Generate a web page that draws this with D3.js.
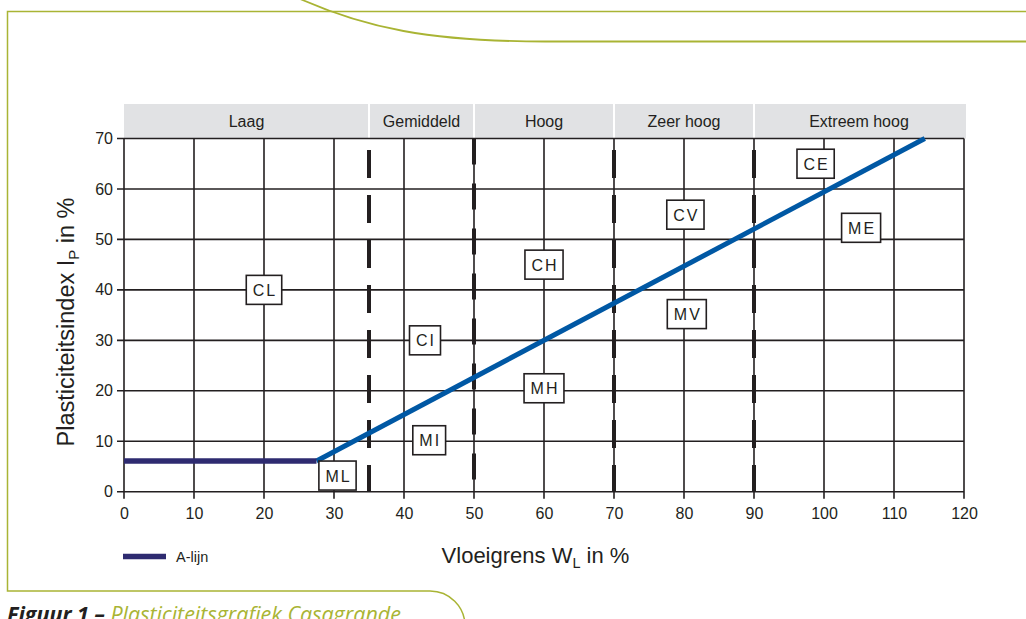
<!DOCTYPE html>
<html>
<head>
<meta charset="utf-8">
<script src="https://cdn.jsdelivr.net/npm/d3@7"></script>
<style>
  html, body { margin: 0; padding: 0; background: #fff; }
  svg { display: block; }
</style>
</head>
<body>
<script>
// ---- data ----
const zoneNames = ["Laag", "Gemiddeld", "Hoog", "Zeer hoog", "Extreem hoog"];
const zoneBounds = [0, 35, 50, 70, 90, 120];
const dividers = [35, 50, 70, 90];
const xTicks = [0, 10, 20, 30, 40, 50, 60, 70, 80, 90, 100, 110, 120];
const yTicks = [0, 10, 20, 30, 40, 50, 60, 70];
const soilCodes = ["CL", "CI", "CH", "CV", "CE", "ML", "MI", "MH", "MV", "ME"];
const soilX = [20, 43, 60, 80.2, 98.8, 30.5, 43.6, 60, 80.4, 105.3];
const soilY = [40, 30, 45, 54.9, 65, 3.2, 10.2, 20.5, 35.2, 52.3];
const aLijnX = [0, 27.5];
const aLijnY = [6.1, 6.1];
const schuinX = [27.5, 114.4];
const schuinY = [6.1, 70];

const W = 1026, H = 619;
const svg = d3.select("body").append("svg").attr("width", W).attr("height", H);

const x = d3.scaleLinear().domain([0, 120]).range([124, 964]);
const y = d3.scaleLinear().domain([0, 70]).range([491.7, 138.5]);

const ink = "#231f20";
const olive = "#a9b434";
const font = "'Liberation Sans', Arial, sans-serif";

// ---- decorative frame ----
svg.append("path")
  .attr("d", "M1026,11.5 H7.5 V591 H430 A35,35 0 0 1 465,626")
  .attr("fill", "none").attr("stroke", olive).attr("stroke-width", 1.5);
svg.append("path")
  .attr("d", "M298,-2 C365,28 430,41.5 545,41.5 H1026")
  .attr("fill", "none").attr("stroke", olive).attr("stroke-width", 1.8);

// ---- header band ----
const band = svg.append("g");
zoneNames.forEach((n, i) => {
  const x0 = x(zoneBounds[i]), x1 = x(zoneBounds[i + 1]);
  band.append("rect")
    .attr("x", x0 + (i === 0 ? 0 : 1)).attr("y", 104)
    .attr("width", x1 - x0 - (i === 0 ? 1 : 2) + (i === zoneNames.length - 1 ? 3 : 0))
    .attr("height", 34.5)
    .attr("fill", "#e1e2e4");
  band.append("text")
    .attr("x", (x0 + x1) / 2).attr("y", 127)
    .attr("text-anchor", "middle")
    .attr("font-family", font).attr("font-size", 16)
    .attr("fill", ink).text(n);
});

// ---- grid ----
const grid = svg.append("g").attr("stroke", ink).attr("stroke-width", 1.6);
xTicks.forEach(t => {
  grid.append("line").attr("x1", x(t)).attr("x2", x(t))
    .attr("y1", y(70)).attr("y2", y(0) + 7);
});
yTicks.forEach(t => {
  grid.append("line").attr("x1", x(0) - 7).attr("x2", x(120))
    .attr("y1", y(t)).attr("y2", y(t));
});

// ---- axes labels via d3 axes ----
const xAxis = svg.append("g").attr("transform", `translate(0,${y(0)})`)
  .call(d3.axisBottom(x).tickValues(xTicks).tickSize(0).tickPadding(16));
xAxis.select(".domain").remove();
xAxis.selectAll("text").attr("font-family", font).attr("font-size", 16).attr("fill", ink);

const yAxis = svg.append("g").attr("transform", `translate(${x(0)},0)`)
  .call(d3.axisLeft(y).tickValues(yTicks).tickSize(0).tickPadding(11));
yAxis.select(".domain").remove();
yAxis.selectAll("text").attr("font-family", font).attr("font-size", 16).attr("fill", ink);

// ---- dashed dividers ----
dividers.forEach(d => {
  const start = 150;
  const period = 45;
  const off = period - (start - y(70));
  svg.append("line")
    .attr("x1", x(d)).attr("x2", x(d))
    .attr("y1", y(70)).attr("y2", y(0))
    .attr("stroke", ink).attr("stroke-width", 4)
    .attr("stroke-dasharray", d === 50 ? "26 19" : "28 17")
    .attr("stroke-dashoffset", d === 50 ? 0 : off);
});

// ---- lines ----
const line = d3.line().x(p => x(p[0])).y(p => y(p[1]));
svg.append("path")
  .datum(schuinX.map((v, i) => [v, schuinY[i]]))
  .attr("d", line).attr("fill", "none")
  .attr("stroke", "#0058a4").attr("stroke-width", 5);
svg.append("path")
  .datum(aLijnX.map((v, i) => [v, aLijnY[i]]))
  .attr("d", line).attr("fill", "none")
  .attr("stroke", "#2e2b70").attr("stroke-width", 5.5);

// ---- soil code boxes ----
soilCodes.forEach((c, i) => {
  const g = svg.append("g").attr("transform", `translate(${x(soilX[i])},${y(soilY[i])})`);
  const rect = g.append("rect");
  const t = g.append("text")
    .attr("text-anchor", "middle").attr("y", 6)
    .attr("font-family", font).attr("font-size", 16)
    .attr("letter-spacing", 2)
    .attr("fill", ink).text(c);
  const w = t.node().getComputedTextLength() + 11;
  t.attr("dx", 1);
  rect.attr("x", -w / 2).attr("y", -14.5).attr("width", w).attr("height", 29)
    .attr("fill", "#fff").attr("stroke", ink).attr("stroke-width", 1.6);
});

// ---- axis titles ----
const yt = svg.append("text")
  .attr("transform", "translate(74,322) rotate(-90)")
  .attr("text-anchor", "middle")
  .attr("font-family", font).attr("font-size", 23.5).attr("fill", ink);
yt.append("tspan").text("Plasticiteitsindex I");
yt.append("tspan").attr("font-size", 15).attr("dy", 5).text("P");
yt.append("tspan").attr("dy", -5).text(" in %");

const xt = svg.append("text")
  .attr("x", 535.5).attr("y", 562.5)
  .attr("text-anchor", "middle")
  .attr("font-family", font).attr("font-size", 22).attr("fill", ink);
xt.append("tspan").text("Vloeigrens W");
xt.append("tspan").attr("font-size", 14.5).attr("dy", 5).text("L");
xt.append("tspan").attr("dy", -5).text(" in %");

// ---- legend ----
svg.append("line").attr("x1", 123).attr("x2", 166).attr("y1", 556.5).attr("y2", 556.5)
  .attr("stroke", "#2e2b70").attr("stroke-width", 5.5);
svg.append("text").attr("x", 176).attr("y", 561.5)
  .attr("font-family", font).attr("font-size", 14.5).attr("fill", ink).text("A-lijn");

// ---- caption ----
const cap = svg.append("text").attr("x", 7).attr("y", 622)
  .attr("font-family", "'Open Sans', 'Noto Sans', sans-serif").attr("font-size", 21.5)
  .attr("font-style", "italic");
cap.append("tspan").attr("font-weight", "bold").attr("fill", ink).text("Figuur 1 – ");
cap.append("tspan").attr("fill", olive).text("Plasticiteitsgrafiek Casagrande");
</script>
</body>
</html>
